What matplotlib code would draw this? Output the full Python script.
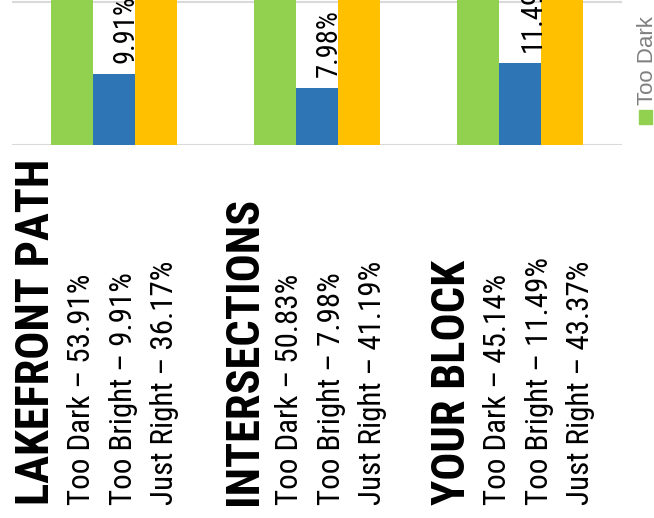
import matplotlib
matplotlib.use("Agg")
import matplotlib.pyplot as plt
from matplotlib import font_manager
from matplotlib.font_manager import FontProperties
from matplotlib.patches import Rectangle
import numpy as np

# ---- data ----
categories = ["LAKEFRONT PATH", "INTERSECTIONS", "YOUR BLOCK"]
series_names = ["Too Dark", "Too Bright", "Just Right"]
too_dark = [53.91, 50.83, 45.14]
too_bright = [9.91, 7.98, 11.49]
just_right = [36.17, 41.19, 43.37]
colors = ["#92D050", "#2E75B6", "#FFC000"]


# ---- fonts: a narrow sans (Arial Narrow look-alike) ----
def find_file(name, bold):
    for f in font_manager.fontManager.ttflist:
        if f.name != name or f.style != "normal":
            continue
        fn = f.fname.split("/")[-1]
        if bold:
            if f.weight in (700, "bold") and "[" not in fn:
                return f.fname
        else:
            if f.weight in (400, "normal", "regular"):
                return f.fname
    return None


families = ["Roboto Condensed", "Archivo Narrow", "PT Sans Narrow",
            "Asap Condensed", "Barlow Semi Condensed"]
reg_file = bold_file = None
for fam in families:
    r, b = find_file(fam, False), find_file(fam, True)
    if r and b:
        reg_file, bold_file = r, b
        break
if reg_file is None:
    for fam in families:
        r = find_file(fam, False)
        if r:
            reg_file = r
            break
    for fam in families:
        b = find_file(fam, True)
        if b:
            bold_file = b
            break

fp_reg = FontProperties(fname=reg_file) if reg_file else FontProperties(family="Liberation Sans")
fp_bold = FontProperties(fname=bold_file) if bold_file else FontProperties(family="Liberation Sans", weight="bold")

W, H = 654, 518
DPI = 100
fig = plt.figure(figsize=(W / DPI, H / DPI), dpi=DPI)
fig.patch.set_facecolor("white")
renderer = fig.canvas.get_renderer()


def size_for(text, fp, target_px):
    p = fp.copy()
    p.set_size(10)
    w, _, _ = renderer.get_text_width_height_descent(text, p, ismath=False)
    return 10 * target_px / w


reg_size = size_for("Too Dark \u2013 53.91%", fp_reg, 231)
bold_size = size_for("LAKEFRONT PATH", fp_bold, 345)
lab_size = reg_size * 0.92

# axes: bottom at y=145 px from top, extends above the visible canvas
ax = fig.add_axes([12 / W, (H - 145) / H, 610 / W, 429 / H])
ax.set_xlim(-0.5, 2.5)
ax.set_ylim(0, 60)
ax.set_yticks([0, 20, 40, 60])
ax.yaxis.grid(True, color="#D9D9D9", lw=1.5)
ax.set_axisbelow(True)
ax.tick_params(left=False, bottom=False, labelleft=False, labelbottom=False)
for s in ax.spines.values():
    s.set_visible(False)

x = np.arange(len(categories))
bw = 42 / (610 / 3)
ax.bar(x - bw, too_dark, bw, color=colors[0], zorder=2, label=series_names[0])
ax.bar(x, too_bright, bw, color=colors[1], zorder=2, label=series_names[1])
ax.bar(x + bw, just_right, bw, color=colors[2], zorder=2, label=series_names[2])


def fprop(base, size):
    p = base.copy()
    p.set_size(size)
    return p


# data labels on the "Too Bright" bars
for i, v in enumerate(too_bright):
    ax.annotate(f"{v:.2f}%", xy=(i, v), xytext=(20, 11),
                textcoords="offset pixels", rotation=90, rotation_mode="anchor",
                ha="left", va="baseline", fontproperties=fprop(fp_reg, lab_size),
                color="black", annotation_clip=False)

# category labels (rotated blocks)
for i, cat in enumerate(categories):
    title_dx = -64.7 + 4.7 * i
    ax.annotate(cat, xy=(i, 0), xytext=(title_dx, -360),
                textcoords="offset pixels", rotation=90, rotation_mode="anchor",
                ha="left", va="baseline", fontproperties=fprop(fp_bold, bold_size),
                color="black", annotation_clip=False)
    vals = [too_dark[i], too_bright[i], just_right[i]]
    for k, (name, v) in enumerate(zip(series_names, vals)):
        ax.annotate(f"{name} \u2013 {v:.2f}%", xy=(i, 0),
                    xytext=(title_dx + 41.3 * (k + 1), -360),
                    textcoords="offset pixels", rotation=90,
                    rotation_mode="anchor", ha="left", va="baseline",
                    fontproperties=fprop(fp_reg, reg_size), color="black",
                    annotation_clip=False)

# legend (rotated, partially visible)
fig.patches.append(Rectangle((639 / W, 1 - 124 / H), 13 / W, 14 / H,
                             transform=fig.transFigure, color=colors[0]))
fig.text(653 / W, 1 - 105 / H, series_names[0], rotation=90,
         rotation_mode="anchor", ha="left", va="baseline", fontsize=16,
         family="Liberation Sans", color="#808080")

fig.savefig("out.png", dpi=DPI, facecolor="white")
